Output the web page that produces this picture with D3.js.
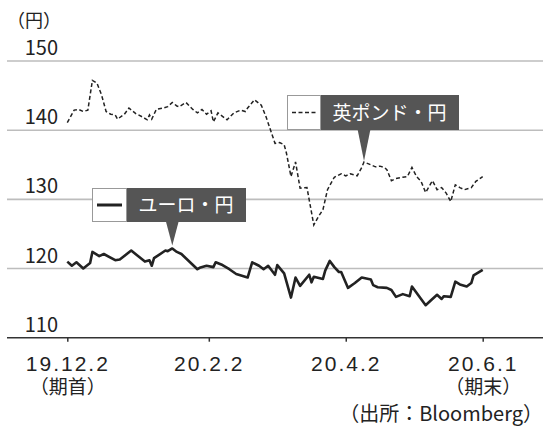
<!DOCTYPE html>
<html>
<head>
<meta charset="utf-8">
<script src="https://cdn.jsdelivr.net/npm/d3@7"></script>
<style>
  body { margin: 0; background: #fff; }
  svg text { font-family: "Noto Sans CJK JP", "Noto Sans", sans-serif; fill: #222; }
  svg .tick text { font-family: "Liberation Sans", "Noto Sans CJK JP", sans-serif; }
</style>
</head>
<body>
<div id="chart"></div>
<script>
// ユーロ・円 (daily close)
const euroDates = ["2019-12-02","2019-12-04","2019-12-06","2019-12-09","2019-12-12","2019-12-13","2019-12-16","2019-12-18","2019-12-23","2019-12-25","2019-12-30",
  "2020-01-05","2020-01-07","2020-01-08","2020-01-09","2020-01-14","2020-01-15","2020-01-17","2020-01-19","2020-01-21","2020-01-28","2020-01-29",
  "2020-02-01","2020-02-04","2020-02-05","2020-02-08","2020-02-11","2020-02-14","2020-02-19","2020-02-21","2020-02-24","2020-02-26","2020-02-28",
  "2020-03-02","2020-03-03","2020-03-06","2020-03-09","2020-03-11","2020-03-13","2020-03-17","2020-03-18","2020-03-19","2020-03-23","2020-03-24","2020-03-26","2020-03-28","2020-03-30","2020-03-31",
  "2020-04-03","2020-04-06","2020-04-09","2020-04-13","2020-04-14","2020-04-16","2020-04-20","2020-04-22","2020-04-24","2020-04-27","2020-04-30",
  "2020-05-01","2020-05-07","2020-05-09","2020-05-12","2020-05-14","2020-05-15","2020-05-18","2020-05-20","2020-05-22","2020-05-25","2020-05-27","2020-05-28","2020-06-01"];
const euroValues = [121.0,120.4,120.9,120.0,120.8,122.4,121.8,122.1,121.2,121.3,122.6,
  121.0,121.2,120.4,121.5,122.6,122.5,122.9,122.4,122.1,119.9,120.1,
  120.4,120.2,120.9,120.5,119.9,119.2,118.7,120.9,120.4,119.9,120.4,
  119.1,120.5,119.3,115.8,118.7,117.5,119.1,118.0,118.8,118.5,119.7,121.1,120.2,119.5,119.5,
  117.2,117.9,118.7,118.4,117.6,117.3,117.2,116.9,115.9,116.3,116.0,
  117.4,114.7,115.3,116.2,115.6,116.0,115.9,118.1,117.7,117.4,117.9,119.0,119.8];

// 英ポンド・円
const gbpDates = ["2019-12-02","2019-12-05","2019-12-07","2019-12-09","2019-12-11","2019-12-13","2019-12-15","2019-12-17","2019-12-19","2019-12-21","2019-12-23","2019-12-24","2019-12-27","2019-12-29",
  "2020-01-01","2020-01-04","2020-01-06","2020-01-07","2020-01-08","2020-01-10","2020-01-13","2020-01-15","2020-01-17","2020-01-19","2020-01-20","2020-01-23","2020-01-26","2020-01-28","2020-01-30",
  "2020-02-01","2020-02-03","2020-02-04","2020-02-06","2020-02-08","2020-02-10","2020-02-13","2020-02-16","2020-02-18","2020-02-19","2020-02-22","2020-02-25","2020-02-27",
  "2020-03-02","2020-03-04","2020-03-06","2020-03-07","2020-03-09","2020-03-11","2020-03-13","2020-03-16","2020-03-19","2020-03-21","2020-03-23","2020-03-25","2020-03-28","2020-03-31",
  "2020-04-02","2020-04-04","2020-04-07","2020-04-09","2020-04-10","2020-04-13","2020-04-15","2020-04-17","2020-04-19","2020-04-20","2020-04-22","2020-04-24","2020-04-27","2020-04-29",
  "2020-05-01","2020-05-03","2020-05-05","2020-05-07","2020-05-10","2020-05-12","2020-05-14","2020-05-16","2020-05-18","2020-05-20","2020-05-22","2020-05-24","2020-05-27","2020-05-29","2020-06-01"];
const gbpValues = [141.1,142.9,143.0,142.7,142.9,147.2,146.8,145.1,142.7,142.3,142.2,141.6,142.3,143.2,
  142.4,141.9,141.5,142.2,141.6,143.0,143.2,143.4,144.0,143.5,143.4,144.0,143.0,142.5,143.0,
  142.3,142.8,141.2,142.5,142.0,141.5,142.5,142.9,142.7,143.2,144.4,143.6,142.0,
  138.1,138.2,137.9,136.7,133.3,135.4,131.6,131.7,126.3,127.5,128.5,131.4,133.2,133.7,
  133.4,133.7,133.4,134.6,135.4,135.0,134.7,134.8,134.6,134.3,132.7,133.0,133.2,133.3,
  134.6,133.3,132.6,131.0,132.7,131.4,131.7,130.9,129.7,132.1,131.7,131.4,131.7,132.6,133.3];

const yTicks = [110, 120, 130, 140, 150];
const xTickDates = ["2019-12-02", "2020-02-02", "2020-04-02", "2020-06-01"];
const xTickLabels = ["19.12.2", "20.2.2", "20.4.2", "20.6.1"];
const xSubLabels = ["（期首）", "", "", "（期末）"];
const unitLabel = "（円）";
const sourceLabel = "（出所：Bloomberg）";
const legendNames = ["ユーロ・円", "英ポンド・円"];
const gbpPointerDate = "2020-04-10";

const parse = d3.timeParse("%Y-%m-%d");
const fmt = d3.timeFormat("%Y-%m-%d");
const euro = euroDates.map((d, i) => ({ date: parse(d), value: euroValues[i] }));
const gbp = gbpDates.map((d, i) => ({ date: parse(d), value: gbpValues[i] }));

const width = 543, height = 428;
const svg = d3.select("#chart").append("svg")
  .attr("width", width)
  .attr("height", height);

const x = d3.scaleTime()
  .domain([parse(xTickDates[0]), parse(xTickDates[3])])
  .range([67.3, 482.7]);
const y = d3.scaleLinear()
  .domain([110, 150])
  .range([337.7, 61]);

// grid lines
svg.append("g").selectAll("line")
  .data(yTicks.filter(d => d !== 110))
  .enter().append("line")
  .attr("x1", 7).attr("x2", width)
  .attr("y1", d => y(d)).attr("y2", d => y(d))
  .attr("stroke", "#bdbdbd")
  .attr("stroke-width", 1.6);

// y labels sit just above their grid line
svg.append("g").selectAll("text")
  .data(yTicks)
  .enter().append("text")
  .attr("x", 58)
  .attr("y", d => y(d) - 6)
  .attr("text-anchor", "end")
  .attr("font-size", 20)
  .text(d => d);

svg.append("text")
  .attr("x", 7).attr("y", 27)
  .attr("font-size", 18)
  .text(unitLabel);

// x axis
const xAxis = d3.axisBottom(x)
  .tickValues(xTickDates.map(parse))
  .tickSize(4)
  .tickFormat("");

const gx = svg.append("g")
  .attr("transform", `translate(0,${y(110)})`)
  .call(xAxis);
gx.select(".domain").remove();
gx.selectAll(".tick line").attr("stroke", "#333").attr("stroke-width", 1.5);

// date + (期首)/(期末) as one two-line label
const tickText = gx.selectAll(".tick text")
  .attr("y", 33).attr("dy", null)
  .attr("fill", "#222")
  .text(null);
tickText.append("tspan")
  .attr("x", 0)
  .attr("font-size", 21)
  .attr("letter-spacing", 2)
  .text((d, i) => xTickLabels[i]);
tickText.filter(d => xSubLabels[xTickDates.indexOf(fmt(d))])
  .append("tspan")
  .attr("x", 0)
  .attr("dy", 23)
  .attr("font-size", 19)
  .text(d => xSubLabels[xTickDates.indexOf(fmt(d))]);

svg.append("line")
  .attr("x1", 7).attr("x2", width)
  .attr("y1", y(110)).attr("y2", y(110))
  .attr("stroke", "#333")
  .attr("stroke-width", 1.6);

svg.append("text")
  .attr("x", width).attr("y", 421)
  .attr("text-anchor", "end")
  .attr("font-size", 20)
  .text(sourceLabel);

// lines
const line = d3.line()
  .x(d => x(d.date))
  .y(d => y(d.value));

svg.append("path")
  .datum(gbp)
  .attr("fill", "none")
  .attr("stroke", "#222")
  .attr("stroke-width", 1.5)
  .attr("stroke-dasharray", "4,2.5")
  .attr("d", line);

svg.append("path")
  .datum(euro)
  .attr("fill", "none")
  .attr("stroke", "#222")
  .attr("stroke-width", 2.6)
  .attr("stroke-linejoin", "round")
  .attr("d", line);

// legend callouts
const euroPeak = euro[d3.maxIndex(euro, d => d.value)];
const gbpPoint = gbp.find(d => +d.date === +parse(gbpPointerDate));

function callout(box, name, apex, dashed) {
  const g = svg.append("g");
  const h = box.h, sw = box.sw;
  g.append("path")
    .attr("d", `M${apex[0] - 6.5},${box.y + h - 1} L${apex[0] + 6.5},${box.y + h - 1} L${apex[0]},${apex[1]} Z`)
    .attr("fill", "#555");
  g.append("rect")
    .attr("x", box.x + sw).attr("y", box.y)
    .attr("width", box.w - sw).attr("height", h)
    .attr("fill", "#555");
  g.append("rect")
    .attr("x", box.x + 0.5).attr("y", box.y + 0.5)
    .attr("width", sw).attr("height", h - 1)
    .attr("fill", "#fff")
    .attr("stroke", "#999")
    .attr("stroke-width", 1);
  g.append("line")
    .attr("x1", box.x + 5).attr("x2", box.x + sw - 4)
    .attr("y1", box.y + h / 2).attr("y2", box.y + h / 2)
    .attr("stroke", "#222")
    .attr("stroke-width", dashed ? 1.5 : 3)
    .attr("stroke-dasharray", dashed ? "4,2.5" : null);
  g.append("text")
    .attr("x", box.x + sw + (box.w - sw) / 2)
    .attr("y", box.y + h / 2 + 7)
    .attr("text-anchor", "middle")
    .attr("font-size", 19)
    .style("fill", "#fff")
    .text(name);
}

callout({ x: 92, y: 188, w: 154, h: 34, sw: 34 }, legendNames[0],
  [x(euroPeak.date), y(euroPeak.value) - 3], false);
callout({ x: 287, y: 95, w: 172, h: 35, sw: 33 }, legendNames[1],
  [x(gbpPoint.date), y(gbpPoint.value) - 1], true);
</script>
</body>
</html>
